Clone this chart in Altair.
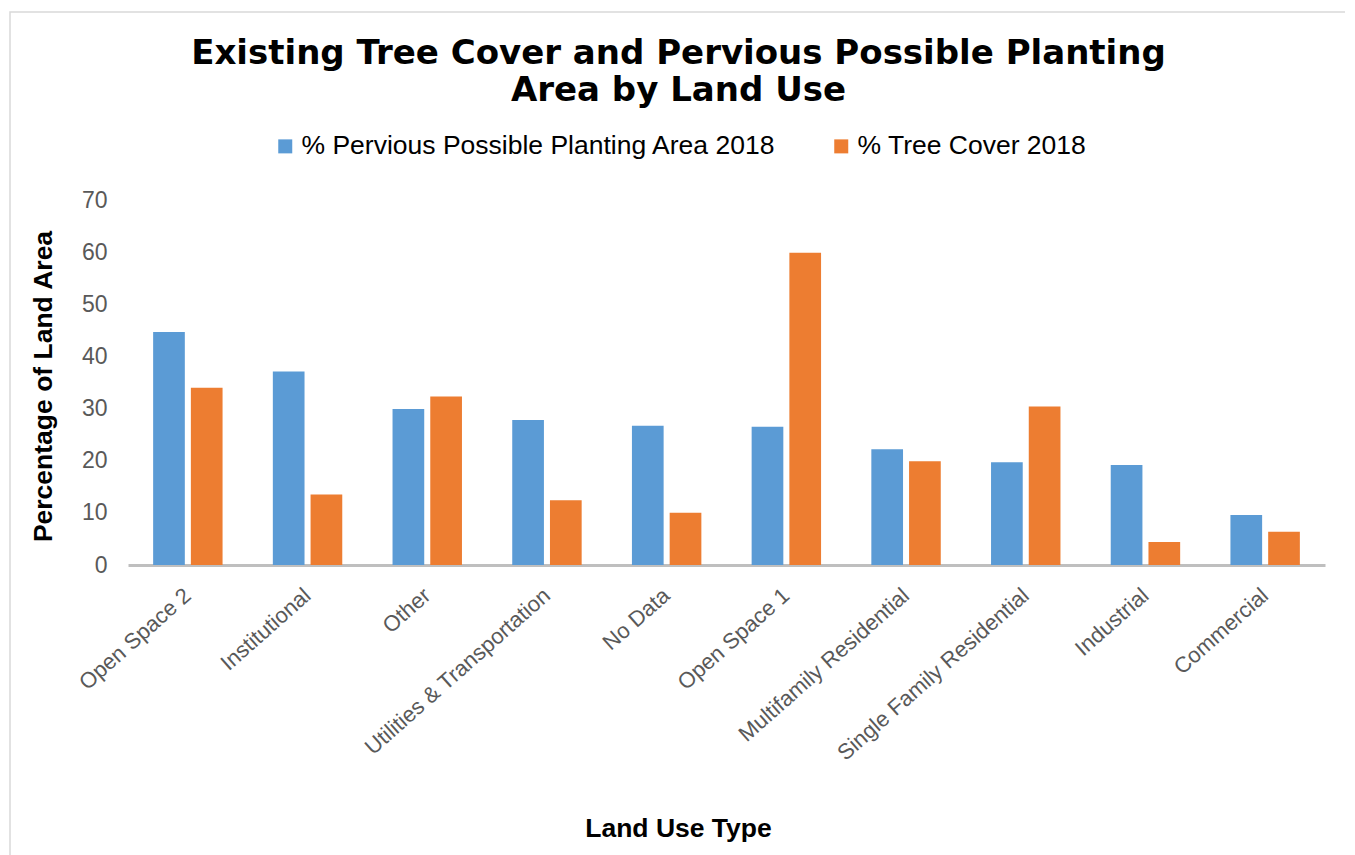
import altair as alt
import pandas as pd

categories = [
    "Open Space 2", "Institutional", "Other", "Utilities & Transportation",
    "No Data", "Open Space 1", "Multifamily Residential",
    "Single Family Residential", "Industrial", "Commercial",
]
pervious = [44.7, 37.1, 29.9, 27.8, 26.7, 26.5, 22.2, 19.7, 19.2, 9.6]
tree_cover = [34.0, 13.5, 32.3, 12.4, 10.0, 59.9, 19.9, 30.4, 4.4, 6.4]
series = ["% Pervious Possible Planting Area 2018", "% Tree Cover 2018"]
colors = ["#5B9BD5", "#ED7D31"]
y_ticks = [0, 10, 20, 30, 40, 50, 60, 70]

rows = []
for c, p, t in zip(categories, pervious, tree_cover):
    rows.append({"Land Use Type": c, "Series": series[0], "Value": p})
    rows.append({"Land Use Type": c, "Series": series[1], "Value": t})
df = pd.DataFrame(rows)

frame = alt.Chart(pd.DataFrame({"f": [0]})).mark_rect(
    fillOpacity=0, stroke="#D9D9D9", strokeWidth=1.5
).encode(
    x=alt.value(-118), x2=alt.value(1218), y=alt.value(-188), y2=alt.value(700)
)

bars = alt.Chart(df).mark_bar().encode(
    x=alt.X(
        "Land Use Type:N",
        sort=categories,
        scale=alt.Scale(paddingInner=0.42, paddingOuter=0.21),
        axis=alt.Axis(
            title="Land Use Type",
            titleFont="Liberation Sans", titleFontSize=26.5, titleFontWeight="bold",
            titleColor="#000000", titleX=550, titleY=263,
            titleAlign="center", titleBaseline="middle",
            labelAngle=-41.5, labelAlign="right", labelBaseline="middle",
            labelFont="Liberation Sans", labelFontSize=22, labelColor="#595959",
            labelPadding=27, labelLimit=0,
            ticks=False, domainColor="#BFBFBF", domainWidth=3,
        ),
    ),
    xOffset=alt.XOffset("Series:N", sort=series, scale=alt.Scale(paddingInner=0.16)),
    y=alt.Y(
        "Value:Q",
        scale=alt.Scale(domain=[0, 70], nice=False),
        axis=alt.Axis(
            values=y_ticks, title="Percentage of Land Area",
            titleFont="Liberation Sans", titleFontSize=26.5, titleFontWeight="bold",
            titleColor="#000000", titleX=-85, titleY=186, titleAngle=-90,
            titleAlign="center", titleBaseline="middle",
            labelFont="Liberation Sans", labelFontSize=23, labelColor="#595959",
            labelPadding=21, grid=False, domain=False, ticks=False,
        ),
    ),
    color=alt.Color(
        "Series:N", sort=series,
        scale=alt.Scale(domain=series, range=colors),
        legend=alt.Legend(
            orient="none", legendX=144, legendY=-67, direction="horizontal",
            title=None, labelFont="Liberation Sans", labelFontSize=26.5,
            labelColor="#000000", symbolType="square", symbolSize=196,
            symbolStrokeWidth=0, labelOffset=3, columnPadding=52, labelLimit=0,
            padding=0,
        ),
    ),
)

chart = alt.layer(frame, bars).properties(
    width=1197,
    height=365,
    title=alt.Title(
        ["Existing Tree Cover and Pervious Possible Planting", "Area by Land Use"],
        font="DejaVu Sans", fontSize=34, fontWeight="bold", color="#000000",
        anchor="middle", frame="group", dx=-48, dy=97, offset=0, lineHeight=37,
    ),
    autosize=alt.AutoSizeParams(type="none"),
    padding={"left": 120, "top": 192, "right": 20, "bottom": 290},
).configure(background="#FFFFFF").configure_view(stroke=None, strokeWidth=0)

chart.save("out.html", embed_options={"renderer": "svg", "actions": False})
